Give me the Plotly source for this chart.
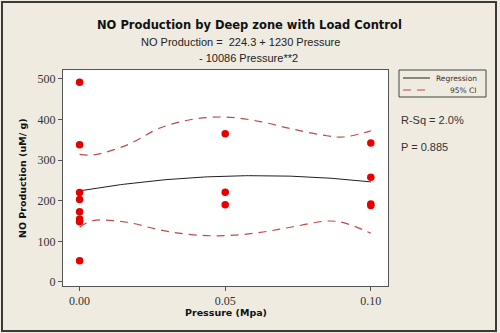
import plotly.graph_objects as go

# Observed NO production at each pressure level
pressure = [0.0, 0.0, 0.0, 0.0, 0.0, 0.0, 0.0, 0.0,
            0.05, 0.05, 0.05,
            0.1, 0.1, 0.1, 0.1]
no_prod = [492, 338, 220, 203, 173, 155, 148, 52,
           365, 221, 190,
           342, 258, 192, 188]

# Fitted quadratic coefficients (as printed in the subtitle)
b0, b1, b2 = 224.3, 1230.0, -10086.0

# 95% confidence band
ci_x = [0.0, 0.0047, 0.0162, 0.0276, 0.0391, 0.0505, 0.062, 0.0734, 0.0849, 0.0906, 0.1]
ci_upper = [314, 313, 337, 379, 401, 406, 395, 376, 360, 357, 372]
ci_lower = [135, 151, 147, 128, 116, 114, 122, 136, 150, 146, 120]

fit_x = [i / 100 * 0.1 for i in range(101)]
fit_y = [b0 + b1 * x + b2 * x * x for x in fit_x]

BG = "#EFEBE1"
CI_COLOR = "#C0494B"
CI_DASH = "8px,6px"
L, R, T, B = 63, 112, 70, 47
PW, PH = 500 - L - R, 333 - T - B


def px(xp):
    return (xp - L) / PW


def py(yp):
    return (333 - B - yp) / PH


fig = go.Figure()
fig.add_trace(go.Scatter(x=fit_x, y=fit_y, mode="lines", name="Regression",
                         line=dict(color="#202020", width=1)))
for band in (ci_upper, ci_lower):
    fig.add_trace(go.Scatter(x=ci_x, y=band, mode="lines", name="95% CI",
                             line=dict(color=CI_COLOR, width=1.2, dash=CI_DASH,
                                       shape="spline", smoothing=1.0)))
fig.add_trace(go.Scatter(x=pressure, y=no_prod, mode="markers",
                         marker=dict(color="#E60000", size=7.5, line=dict(width=0))))

tick_font = dict(family="Liberation Serif", size=12, color="#333333")
axis_common = dict(showgrid=False, zeroline=False, showline=True, mirror=True,
                   linecolor="#555555", linewidth=1, ticks="outside", ticklen=4,
                   tickcolor="#555555", tickfont=tick_font)

fig.update_layout(
    width=500, height=333,
    margin=dict(l=L, r=R, t=T, b=B),
    paper_bgcolor=BG, plot_bgcolor="white",
    xaxis=dict(range=[-0.0057, 0.1059], tickvals=[0, 0.05, 0.1],
               ticktext=["0.00", "0.05", "0.10"], **axis_common),
    yaxis=dict(range=[-10, 522], tickvals=[0, 100, 200, 300, 400, 500], **axis_common),
    showlegend=False,
)

annots = [
    dict(text="<b>NO Production by Deep zone with Load Control</b>", x=px(249), y=py(25),
         font=dict(family="DejaVu Sans", size=11.5, color="#111111")),
    dict(text="NO Production =  224.3 + 1230 Pressure", x=px(240), y=py(42),
         font=dict(family="Liberation Sans", size=11, color="#222222")),
    dict(text="- 10086 Pressure**2", x=px(248), y=py(58),
         font=dict(family="Liberation Sans", size=11, color="#222222")),
    dict(text="<b>Pressure (Mpa)</b>", x=px(226), y=py(312),
         font=dict(family="DejaVu Sans", size=9.5, color="#111111")),
    dict(text="<b>NO Production (uM/ g)</b>", x=px(22), y=py(178), textangle=-90,
         font=dict(family="DejaVu Sans", size=9.5, color="#111111")),
]
for a in annots:
    fig.add_annotation(xref="paper", yref="paper", xanchor="center", yanchor="middle",
                       showarrow=False, **a)

for txt, yp in [("R-Sq = 2.0%", 120), ("P = 0.885", 147)]:
    fig.add_annotation(xref="paper", yref="paper", x=px(399), y=py(yp), text=txt,
                       xanchor="left", yanchor="middle", showarrow=False,
                       font=dict(family="Liberation Sans", size=11, color="#333333"))

# Legend box with line samples
fig.add_shape(type="rect", xref="paper", yref="paper",
              x0=px(399), x1=px(486), y0=py(97), y1=py(70),
              line=dict(color="#444444", width=1), fillcolor=BG)
fig.add_shape(type="line", xref="paper", yref="paper",
              x0=px(403), x1=px(430), y0=py(78), y1=py(78),
              line=dict(color="#202020", width=1))
fig.add_shape(type="line", xref="paper", yref="paper",
              x0=px(403), x1=px(426), y0=py(90), y1=py(90),
              line=dict(color=CI_COLOR, width=1.2, dash=CI_DASH))
for txt, yp in [("Regression", 78), ("95% CI", 90)]:
    fig.add_annotation(xref="paper", yref="paper", x=px(479), y=py(yp), text=txt,
                       xanchor="right", yanchor="middle", showarrow=False,
                       font=dict(family="DejaVu Sans", size=7.5, color="#333333"))

# Outer frame around the whole graph
fig.add_shape(type="rect", xref="paper", yref="paper",
              x0=px(2), x1=px(496), y0=py(331), y1=py(2),
              line=dict(color="#3A3A3A", width=2), layer="above")

fig.write_html("out.html")
